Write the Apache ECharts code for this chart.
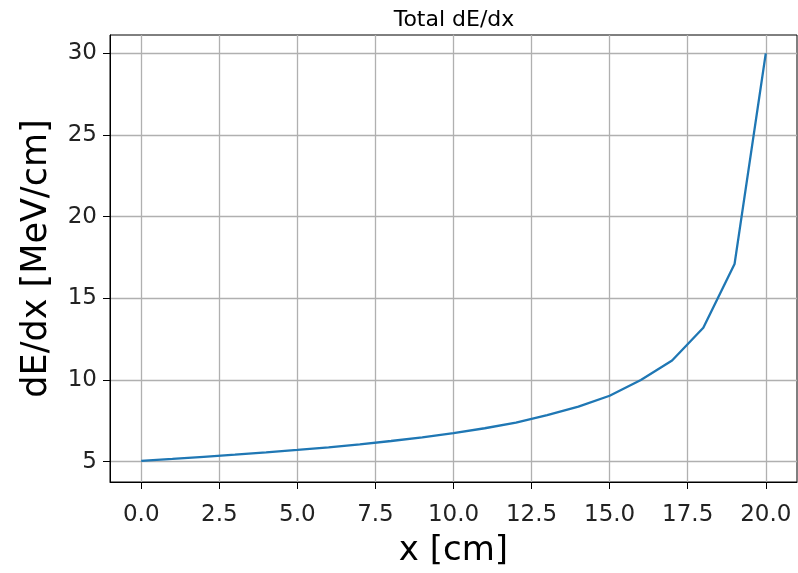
<!DOCTYPE html>
<html>
<head>
<meta charset="utf-8">
<script src="https://cdn.jsdelivr.net/npm/echarts@6/dist/echarts.min.js"></script>
<style>
  html, body { margin: 0; padding: 0; background: #fff; }
  #chart { width: 798px; height: 573px; }
</style>
</head>
<body>
<div id="chart"></div>
<script>
// Depth along the track (cm) and stopping power at each depth (MeV/cm)
const depth = [0, 1, 2, 3, 4, 5, 6, 7, 8, 9, 10, 11, 12, 13, 14, 15, 16, 17, 18, 19, 20];
const dEdx = [5.05, 5.17, 5.3, 5.43, 5.57, 5.72, 5.88, 6.06, 6.27, 6.49, 6.75,
              7.05, 7.4, 7.85, 8.37, 9.04, 10.0, 11.2, 13.2, 17.1, 30.0];

// Tick positions on each axis
const xTicks = [0, 2.5, 5, 7.5, 10, 12.5, 15, 17.5, 20];
const yTicks = [5, 10, 15, 20, 25, 30];

const points = depth.map((d, i) => [d, dEdx[i]]);
const font = 'DejaVu Sans';

const chart = echarts.init(document.getElementById('chart'), null, { renderer: 'canvas' });
chart.setOption({
  animation: false,
  backgroundColor: '#fff',
  title: {
    text: 'Total dE/dx',
    left: 449,
    textAlign: 'center',
    top: 4,
    textStyle: { fontFamily: font, fontSize: 22, fontWeight: 'normal', color: '#000' }
  },
  grid: {
    left: 110, right: 1, top: 35, bottom: 91,
    show: true, borderColor: '#000', borderWidth: 1, backgroundColor: 'transparent'
  },
  xAxis: {
    type: 'value',
    min: -1, max: 21,
    name: 'x [cm]',
    nameLocation: 'middle',
    nameGap: 52,
    nameTextStyle: { fontFamily: font, fontSize: 34, color: '#000' },
    axisLine: { show: true, onZero: false, lineStyle: { color: '#000', width: 1 } },
    axisTick: { show: true, length: 7, customValues: xTicks, lineStyle: { color: '#000' } },
    axisLabel: {
      customValues: xTicks, margin: 22,
      fontFamily: font, fontSize: 23, color: '#222',
      formatter: v => v.toFixed(1)
    },
    splitLine: { show: true, lineStyle: { color: '#b0b0b0', width: 1.3 } }
  },
  yAxis: {
    type: 'value',
    min: 3.76, max: 31.12,
    name: 'dE/dx [MeV/cm]',
    nameLocation: 'middle',
    nameGap: 56,
    nameTextStyle: { fontFamily: font, fontSize: 35, color: '#000' },
    axisLine: { show: true, onZero: false, lineStyle: { color: '#000', width: 1 } },
    axisTick: { show: true, length: 7, customValues: yTicks, lineStyle: { color: '#000' } },
    axisLabel: {
      customValues: yTicks, margin: 13,
      fontFamily: font, fontSize: 23, color: '#222',
      formatter: v => String(v)
    },
    splitLine: { show: true, lineStyle: { color: '#b0b0b0', width: 1.3 } }
  },
  series: [{
    type: 'line',
    data: points,
    showSymbol: false,
    smooth: false,
    lineStyle: { color: '#1f77b4', width: 2.3 },
    itemStyle: { color: '#1f77b4' }
  }]
});
</script>
</body>
</html>
